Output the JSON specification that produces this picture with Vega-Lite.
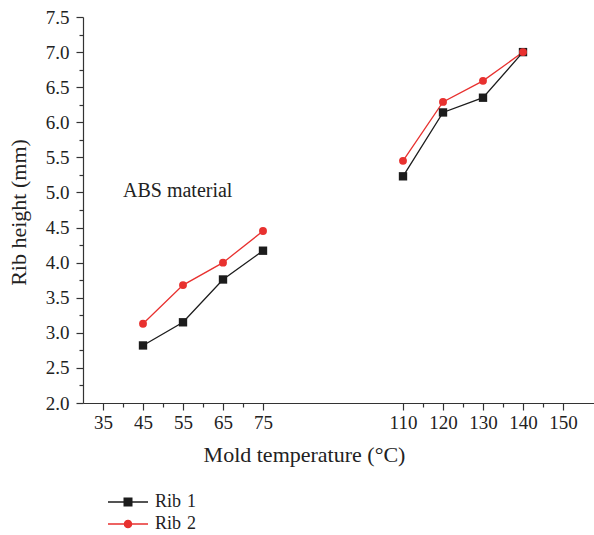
{
  "$schema": "https://vega.github.io/schema/vega-lite/v6.json",
  "autosize": "none",
  "width": 511,
  "height": 386,
  "padding": {"left": 83, "top": 17, "right": 0, "bottom": 132},
  "background": "white",
  "config": {
    "view": {"stroke": null},
    "font": "Liberation Serif",
    "axis": {
      "labelFont": "Liberation Serif",
      "titleFont": "Liberation Serif",
      "labelColor": "#222222",
      "titleColor": "#222222",
      "titleFontWeight": "normal",
      "domainColor": "#333333",
      "tickColor": "#333333",
      "domainWidth": 1.2,
      "tickWidth": 1.2,
      "grid": false
    }
  },
  "data": {
    "values": [
      {"t": 45, "h": 2.82, "series": "Rib 1", "seg": "a"},
      {"t": 55, "h": 3.15, "series": "Rib 1", "seg": "a"},
      {"t": 65, "h": 3.76, "series": "Rib 1", "seg": "a"},
      {"t": 75, "h": 4.17, "series": "Rib 1", "seg": "a"},
      {"t": 110, "h": 5.23, "series": "Rib 1", "seg": "b"},
      {"t": 120, "h": 6.14, "series": "Rib 1", "seg": "b"},
      {"t": 130, "h": 6.35, "series": "Rib 1", "seg": "b"},
      {"t": 140, "h": 7.0, "series": "Rib 1", "seg": "b"},
      {"t": 45, "h": 3.13, "series": "Rib 2", "seg": "a"},
      {"t": 55, "h": 3.68, "series": "Rib 2", "seg": "a"},
      {"t": 65, "h": 4.0, "series": "Rib 2", "seg": "a"},
      {"t": 75, "h": 4.45, "series": "Rib 2", "seg": "a"},
      {"t": 110, "h": 5.45, "series": "Rib 2", "seg": "b"},
      {"t": 120, "h": 6.29, "series": "Rib 2", "seg": "b"},
      {"t": 130, "h": 6.59, "series": "Rib 2", "seg": "b"},
      {"t": 140, "h": 7.0, "series": "Rib 2", "seg": "b"}
    ]
  },
  "layer": [
    {
      "mark": {"type": "line", "strokeWidth": 1.3},
      "encoding": {
        "x": {
          "field": "t", "type": "quantitative",
          "scale": {"domain": [30, 157.75], "nice": false, "zero": false},
          "axis": {
            "orient": "bottom",
            "values": [35, 45, 55, 65, 75, 110, 120, 130, 140, 150],
            "tickSize": 7,
            "labelFontSize": 19,
            "labelPadding": 3,
            "labelFlush": false,
            "title": "Mold temperature (°C)",
            "titleFontSize": 22,
            "titleX": 221,
            "titleY": 58,
            "titleAlign": "center",
            "titleBaseline": "alphabetic"
          }
        },
        "y": {
          "field": "h", "type": "quantitative",
          "scale": {"domain": [2, 7.5], "nice": false, "zero": false},
          "axis": {
            "orient": "left",
            "values": [2, 2.5, 3, 3.5, 4, 4.5, 5, 5.5, 6, 6.5, 7, 7.5],
            "format": ".1f",
            "tickSize": 7,
            "labelFontSize": 19,
            "labelPadding": 7,
            "labelFlush": false,
            "title": "Rib height (mm)",
            "titleFontSize": 22,
            "titleX": -65,
            "titleY": 195,
            "titleAngle": 270,
            "titleAlign": "center",
            "titleBaseline": "middle"
          }
        },
        "color": {
          "field": "series", "type": "nominal",
          "scale": {"domain": ["Rib 1", "Rib 2"], "range": ["#1c1c1c", "#e8312f"]},
          "legend": null
        },
        "detail": {"field": "seg"}
      }
    },
    {
      "transform": [{"filter": "datum.series === 'Rib 1'"}],
      "mark": {"type": "point", "filled": true, "opacity": 1, "shape": "square", "size": 70, "color": "#1c1c1c"},
      "encoding": {
        "x": {"field": "t", "type": "quantitative", "axis": null},
        "y": {"field": "h", "type": "quantitative", "axis": null}
      }
    },
    {
      "transform": [{"filter": "datum.series === 'Rib 2'"}],
      "mark": {"type": "point", "filled": true, "opacity": 1, "shape": "circle", "size": 62, "color": "#e8312f"},
      "encoding": {
        "x": {"field": "t", "type": "quantitative", "axis": null},
        "y": {"field": "h", "type": "quantitative", "axis": null}
      }
    },
    {
      "transform": [{"filter": "datum.series === 'Rib 1'"}],
      "mark": {"type": "point", "filled": true, "opacity": 0, "color": "#1c1c1c"},
      "encoding": {
        "x": {"field": "t", "type": "quantitative", "axis": null},
        "y": {"field": "h", "type": "quantitative", "axis": null},
        "shape": {
          "field": "series", "type": "nominal",
          "scale": {
            "domain": ["Rib 1"],
            "range": ["M-2,-0.07H2V0.07H-2ZM-0.45,-0.45H0.45V0.45H-0.45Z"]
          },
          "legend": {
            "orient": "none",
            "legendX": 35,
            "legendY": 475,
            "title": null,
            "padding": 0,
            "symbolSize": 400,
            "symbolOpacity": 1,
            "symbolStrokeWidth": 0,
            "symbolFillColor": "#1c1c1c",
            "labelFont": "Liberation Serif",
            "labelFontSize": 18,
            "labelColor": "#222222",
            "labelOffset": 17,
            "labelExpr": "replace(datum.label, ' ', '\u2004')"
          }
        }
      }
    },
    {
      "transform": [{"filter": "datum.series === 'Rib 2'"}],
      "mark": {"type": "point", "filled": true, "opacity": 0, "color": "#e8312f"},
      "encoding": {
        "x": {"field": "t", "type": "quantitative", "axis": null},
        "y": {"field": "h", "type": "quantitative", "axis": null},
        "shape": {
          "field": "series", "type": "nominal",
          "scale": {
            "domain": ["Rib 2"],
            "range": ["M-2,-0.07H2V0.07H-2ZM0.43,0A0.43,0.43,0,1,1,-0.43,0A0.43,0.43,0,1,1,0.43,0Z"]
          },
          "legend": {
            "orient": "none",
            "legendX": 35,
            "legendY": 497,
            "title": null,
            "padding": 0,
            "symbolSize": 400,
            "symbolOpacity": 1,
            "symbolStrokeWidth": 0,
            "symbolFillColor": "#e8312f",
            "labelFont": "Liberation Serif",
            "labelFontSize": 18,
            "labelColor": "#222222",
            "labelOffset": 17,
            "labelExpr": "replace(datum.label, ' ', '\u2004')"
          }
        }
      }
    },
    {
      "data": {"values": [{"t": 40, "h": 4.93, "label": "ABS material"}]},
      "mark": {"type": "text", "align": "left", "baseline": "alphabetic", "fontSize": 20, "font": "Liberation Serif", "color": "#222222"},
      "encoding": {
        "x": {
          "field": "t", "type": "quantitative",
          "axis": {
            "orient": "bottom",
            "values": [40, 50, 60, 70, 115, 125, 135, 145],
            "labels": false, "domain": false, "tickSize": 4, "title": null
          }
        },
        "y": {
          "field": "h", "type": "quantitative",
          "axis": {
            "orient": "left",
            "values": [2.25, 2.75, 3.25, 3.75, 4.25, 4.75, 5.25, 5.75, 6.25, 6.75, 7.25],
            "labels": false, "domain": false, "tickSize": 4, "title": null
          }
        },
        "text": {"field": "label"}
      }
    }
  ],
  "resolve": {
    "scale": {"shape": "independent"},
    "axis": {"x": "independent", "y": "independent"},
    "legend": {"shape": "independent"}
  }
}
